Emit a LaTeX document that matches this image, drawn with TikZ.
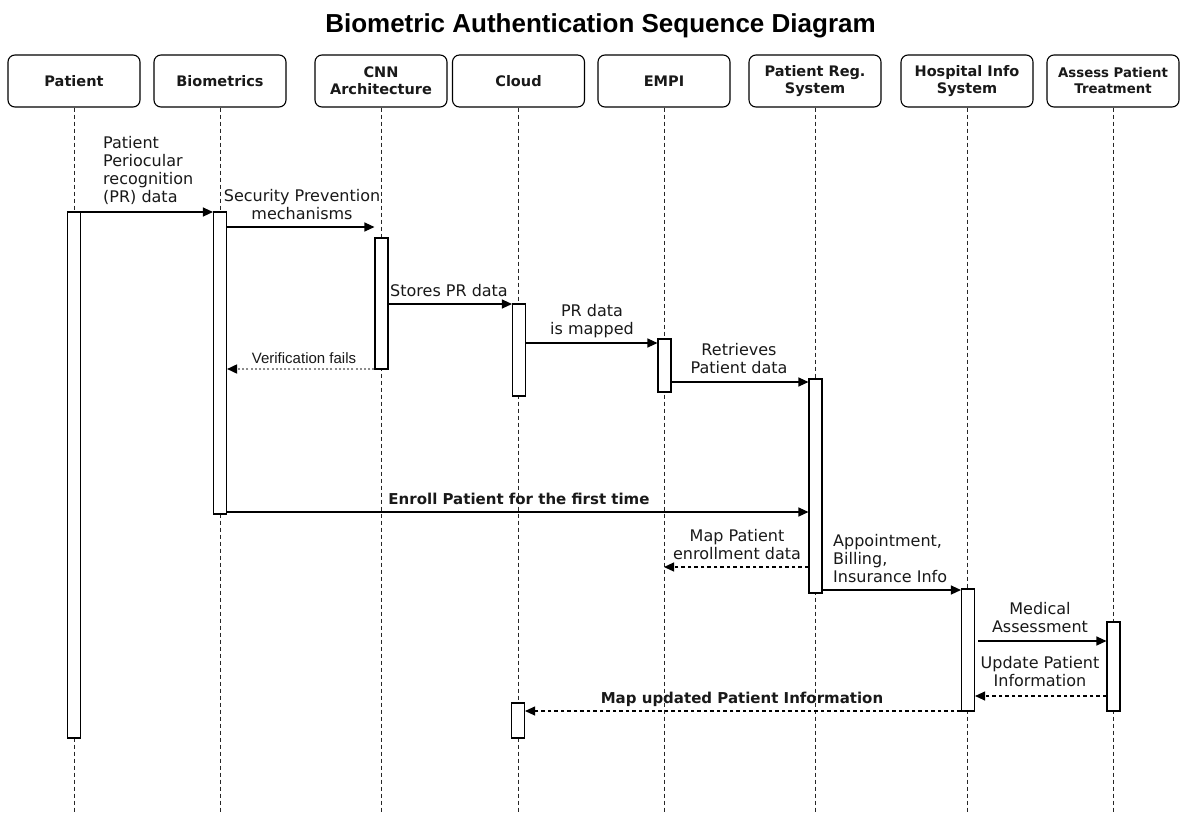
\documentclass[tikz,border=0pt]{standalone}
\usepackage{fontspec}
\setmainfont{DejaVu Sans}
\newfontfamily\arialfont{Liberation Sans}
\usetikzlibrary{arrows.meta}
% text sizes for message labels, lifeline headers and the title
\newcommand\msgfont{\fontsize{16}{18}\selectfont}
\newcommand\hdrfont{\fontsize{14.5}{17}\selectfont\bfseries}
\newcommand\titlefont{\arialfont\bfseries\fontsize{26}{30}\selectfont}
\begin{document}
\begin{tikzpicture}[x=1pt,y=-1pt,
  header/.style={draw, line width=1.1pt, rounded corners=7pt, minimum width=132pt,
    minimum height=52pt, inner sep=0pt, align=center, font=\hdrfont, text=black!90},
  lifeline/.style={line width=0.8pt, dash pattern=on 4pt off 3pt, black!85},
  act/.style={draw, fill=white, line width=1.1pt, minimum width=13pt, inner sep=0pt},
  tip/.style={-{Triangle[length=10pt,width=9pt,color=black]}},
  call/.style={tip, line width=1.2pt},
  reply/.style={tip, line width=1.1pt, dash pattern=on 3.5pt off 3pt},
  fail/.style={tip, line width=1.7pt, black!45, dash pattern=on 2pt off 2.2pt},
  msg/.style={font=\msgfont, inner sep=0pt, align=center, anchor=south, text=black!90},
  msgleft/.style={msg, align=left, anchor=south west},
  boldmsg/.style={font=\fontsize{15}{18}\selectfont\bfseries, inner sep=0pt, anchor=base, text=black!90},
  failmsg/.style={font=\arialfont\fontsize{15}{18}\selectfont, inner sep=0pt, anchor=base, text=black!90}
]
\fill[white] (0,0) rectangle (1182,814);
\useasboundingbox (0,0) rectangle (1182,814);

% title
\node[font=\titlefont, anchor=base, inner sep=0pt] (title) at (600.5,32) {Biometric Authentication Sequence Diagram};

% lifeline headers
\node[header] (hPat)  at (74,81)   {Patient};
\node[header] (hBio)  at (220,81)  {Biometrics};
\node[header] (hCNN)  at (381,81)  {CNN\\Architecture};
\node[header] (hCld)  at (518.5,81) {Cloud};
\node[header] (hEMPI) at (664,81)  {EMPI};
\node[header] (hReg)  at (815,81)  {Patient Reg.\\System};
\node[header] (hHIS)  at (967,81)  {Hospital Info\\System};
\node[header, font=\fontsize{13.3}{16}\selectfont\bfseries] (hAss) at (1113,81) {Assess Patient\\Treatment};

% dashed lifelines
\foreach \h in {hPat,hBio,hCNN,hCld,hEMPI,hReg,hHIS,hAss}
  \draw[lifeline] (\h.south) -- (\h.south |- 0,814);

% activation bars
\node[act, minimum height=526pt] (aPat)  at (74,475)     {};
\node[act, minimum height=302pt] (aBio)  at (220,363)    {};
\node[act, minimum height=131pt] (aCNN)  at (381.5,303.5) {};
\node[act, minimum height=92pt]  (aCld1) at (519,350)    {};
\node[act, minimum height=53pt]  (aEMPI) at (664.5,365.5) {};
\node[act, minimum height=214pt] (aReg)  at (815.5,486)  {};
\node[act, minimum height=122pt] (aHIS)  at (968,650)    {};
\node[act, minimum height=89pt]  (aAss)  at (1113.5,666.5) {};
\node[act, minimum height=35pt]  (aCld2) at (518,720.5)  {};

% messages
\draw[call] (aPat.east |- 0,212) -- (aBio.west |- 0,212);
\node[msgleft] (l1) at (103,208.4) {Patient\\Periocular\\recognition\\(PR) data\strut};

\draw[call] (aBio.east |- 0,227) -- (aCNN.west |- 0,227);
\node[msg] (l2) at (302,225.4) {Security Prevention\\mechanisms\strut};

\draw[call] (aCNN.east |- 0,304) -- (aCld1.west |- 0,304);
\node[msg] (l3) at (449,302.4) {Stores PR data\strut};

\draw[call] (aCld1.east |- 0,343) -- (aEMPI.west |- 0,343);
\node[msg] (l4) at (592,340.4) {PR data\\is mapped\strut};

\draw[call] (aEMPI.east |- 0,382) -- (aReg.west |- 0,382);
\node[msg] (l5) at (739,379.4) {Retrieves\\Patient data\strut};

\draw[fail] (aCNN.west |- 0,369) -- (aBio.east |- 0,369);
\node[failmsg] (l6) at (304,363) {Verification fails};

\draw[call] (aBio.east |- 0,512) -- (aReg.west |- 0,512);
\node[boldmsg] (l7) at (519,504) {Enroll Patient for the first time};

\draw[reply] (aReg.west |- 0,567) -- (hEMPI.south |- 0,567);
\node[msg] (l8) at (737,565.4) {Map Patient\\enrollment data\strut};

\draw[call] (aReg.east |- 0,590) -- (aHIS.west |- 0,590);
\node[msgleft] (l9) at (833,588.4) {Appointment,\\Billing,\\Insurance Info\strut};

\draw[call, shorten <=3pt] (aHIS.east |- 0,641) -- (aAss.west |- 0,641);
\node[msg] (l10) at (1040,638.4) {Medical\\Assessment\strut};

\draw[reply] (aAss.west |- 0,696) -- (aHIS.east |- 0,696);
\node[msg] (l11) at (1040,692.4) {Update Patient\\Information\strut};

\draw[reply] (aHIS.west |- 0,711) -- (aCld2.east |- 0,711);
\node[boldmsg] (l12) at (742,703) {Map updated Patient Information};
\end{tikzpicture}
\end{document}
